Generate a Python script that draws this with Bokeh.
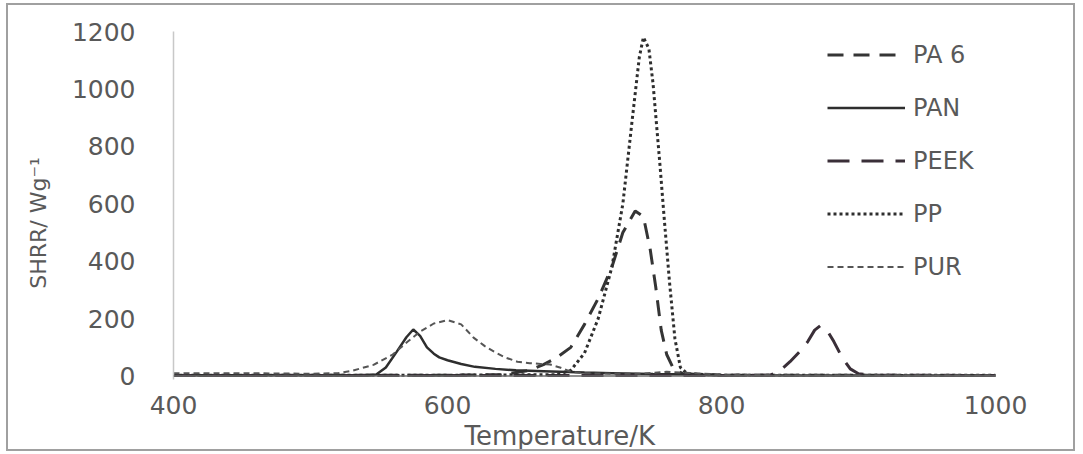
from bokeh.plotting import figure
from bokeh.models import Range1d, FixedTicker, Legend, LegendItem, Span
from bokeh.embed import file_html
from bokeh.resources import INLINE

# ---- data ----
pa6_x = [400, 600, 640, 660, 670, 680, 690, 700, 710, 720, 728, 737, 743, 748, 752, 756, 760, 765, 772, 800, 1000]
pa6_y = [2, 3, 5, 20, 40, 65, 100, 180, 270, 380, 500, 575, 555, 440, 310, 160, 75, 25, 8, 3, 2]

pan_x = [400, 500, 540, 548, 555, 563, 570, 575, 580, 585, 590, 594, 600, 610, 620, 635, 650, 670, 700, 720, 750, 780, 800, 850, 1000]
pan_y = [3, 3, 3, 5, 30, 85, 135, 162, 140, 100, 78, 65, 55, 42, 32, 25, 20, 17, 12, 10, 7, 5, 3, 2, 2]

peek_x = [400, 600, 800, 830, 836, 843, 850, 857, 863, 868, 872, 877, 882, 888, 894, 900, 910, 1000]
peek_y = [2, 2, 2, 3, 4, 20, 50, 85, 120, 160, 175, 160, 120, 65, 25, 8, 3, 2]

pp_x = [400, 600, 680, 690, 700, 710, 720, 728, 735, 740, 743, 747, 750, 755, 758, 762, 766, 770, 775, 800, 1000]
pp_y = [3, 3, 5, 20, 80, 200, 380, 600, 900, 1110, 1180, 1140, 1020, 740, 560, 330, 130, 30, 8, 3, 3]

pur_x = [400, 450, 500, 520, 530, 546, 560, 571, 580, 590, 600, 610, 619, 627, 634, 642, 651, 660, 668, 675, 682, 690, 700, 720, 740, 760, 780, 800, 850, 1000]
pur_y = [10, 10, 8, 10, 18, 39, 75, 120, 155, 183, 195, 180, 134, 105, 85, 65, 50, 45, 42, 40, 30, 15, 10, 8, 8, 15, 10, 5, 3, 3]

x_ticks = [400, 600, 800, 1000]
y_ticks = [0, 200, 400, 600, 800, 1000, 1200]
x_title = "Temperature/K"
y_title = "SHRR/ Wg\u207b\u00b9"
series_names = ["PA 6", "PAN", "PEEK", "PP", "PUR"]

FONT = "DejaVu Sans"
TXT = "#595959"
NB = "\u00a0"

p = figure(width=1069, height=448, output_backend="svg", toolbar_location=None,
           x_range=Range1d(400, 1000), y_range=Range1d(-12, 1200),
           min_border_left=165, min_border_right=82, min_border_top=26, min_border_bottom=72)
p.styles = {"border": "2px solid #a0a0a0", "margin": "3px 0px 0px 6px"}
p.background_fill_color = "white"
p.border_fill_color = "white"
p.outline_line_color = None
p.xgrid.grid_line_color = None
p.ygrid.grid_line_color = None

p.xaxis.ticker = FixedTicker(ticks=x_ticks)
p.yaxis.ticker = FixedTicker(ticks=y_ticks)
for ax in (p.xaxis, p.yaxis):
    ax.major_tick_line_color = None
    ax.minor_tick_line_color = None
    ax.major_label_text_font = FONT
    ax.major_label_text_font_size = "25px"
    ax.major_label_text_color = TXT
    ax.axis_label_text_font = FONT
    ax.axis_label_text_font_style = "normal"
    ax.axis_label_text_color = TXT
p.xaxis.axis_line_color = None
p.yaxis.axis_line_color = "#c8c8c8"
p.yaxis.axis_line_width = 1.5
p.xaxis.major_label_standoff = 10
p.yaxis.major_label_standoff = 32

# trailing no-break spaces shift the centred titles as in the reference
p.xaxis.axis_label = x_title + NB * 6
p.xaxis.axis_label_text_font_size = "26px"
p.xaxis.axis_label_standoff = 4
p.yaxis.axis_label = y_title + NB * 5
p.yaxis.axis_label_text_font_size = "22px"
p.yaxis.axis_label_standoff = 18

p.add_layout(Span(location=0, dimension="width", line_color="#6a6a6a", line_width=1.5))

r_pa6 = p.line(pa6_x, pa6_y, line_color="#353535", line_width=3, line_dash="16 10")
r_pan = p.line(pan_x, pan_y, line_color="#2e2e2e", line_width=2.5)
r_peek = p.line(peek_x, peek_y, line_color="#3a2f38", line_width=3, line_dash="22 12")
r_pp = p.line(pp_x, pp_y, line_color="#2e2e2e", line_width=3, line_dash="3 3")
r_pur = p.line(pur_x, pur_y, line_color="#555555", line_width=2, line_dash="6 4")

legend = Legend(items=[LegendItem(label=n, renderers=[r]) for n, r in
                       zip(series_names, [r_pa6, r_pan, r_peek, r_pp, r_pur])],
                location=(654, 86), padding=0, margin=0, spacing=0,
                glyph_width=78, glyph_height=53, label_height=53, label_standoff=8,
                label_text_font=FONT, label_text_font_size="24px", label_text_color=TXT,
                background_fill_alpha=0, border_line_color=None)
p.add_layout(legend)

open("out.html", "w").write(file_html(p, INLINE))
